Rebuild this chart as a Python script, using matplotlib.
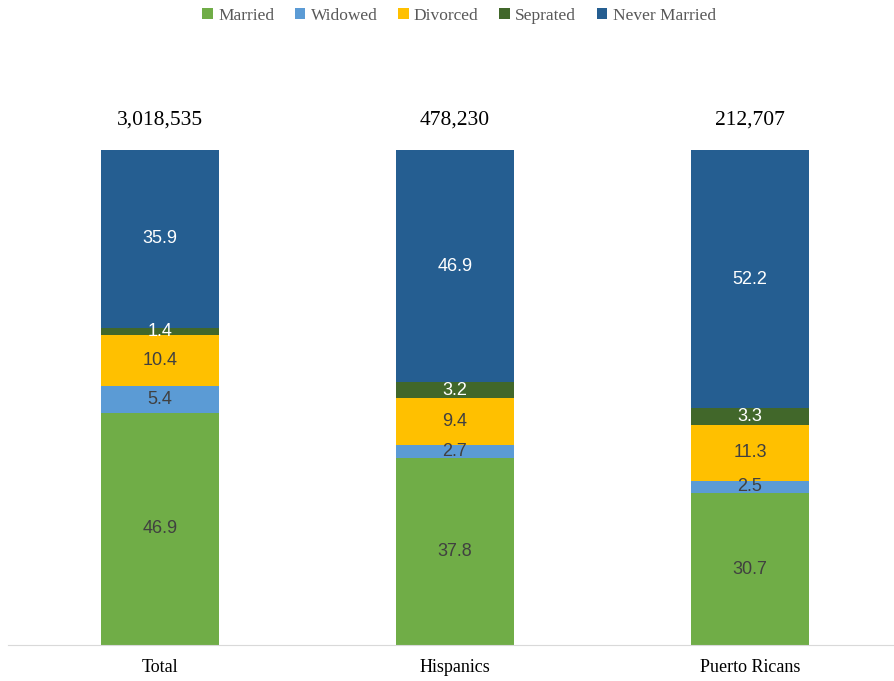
import numpy as np
import matplotlib.pyplot as plt

groups = ["Total", "Hispanics", "Puerto Ricans"]
totals = ["3,018,535", "478,230", "212,707"]

married = [46.9, 37.8, 30.7]
widowed = [5.4, 2.7, 2.5]
divorced = [10.4, 9.4, 11.3]
seprated = [1.4, 3.2, 3.3]
never_married = [35.9, 46.9, 52.2]

series = [
    ("Married", married, "#70AD47", "#404040"),
    ("Widowed", widowed, "#5B9BD5", "#404040"),
    ("Divorced", divorced, "#FFC000", "#404040"),
    ("Seprated", seprated, "#41672A", "white"),
    ("Never Married", never_married, "#255E91", "white"),
]

fig = plt.figure(figsize=(8.95, 6.81), dpi=100)
ax = fig.add_axes([8 / 895, 36 / 681, 885 / 895, 495 / 681])

x = np.arange(len(groups))
bottom = np.zeros(len(groups))
for name, vals, col, tcol in series:
    vals = np.array(vals)
    ax.bar(x, vals, 0.4, bottom=bottom, color=col, label=name)
    for xi, b, v in zip(x, bottom, vals):
        ax.text(xi, b + v / 2, f"{v:.1f}", ha="center", va="center",
                color=tcol, fontsize=13, family="Liberation Sans")
    bottom += vals

# group sizes above the bars
for xi, t in zip(x, totals):
    ax.text(xi, 106, t, ha="center", va="center", fontsize=15.5,
            family="Liberation Serif", clip_on=False)

ax.set_xlim(-0.515, 2.485)
ax.set_ylim(0, 100)
ax.set_yticks([])
ax.set_xticks(x)
ax.set_xticklabels(groups, family="Liberation Serif", fontsize=13)
ax.tick_params(axis="x", length=0, pad=10)
for s in ["top", "right", "left"]:
    ax.spines[s].set_visible(False)
ax.spines["bottom"].set_color("#D9D9D9")

fig.legend(loc="center", bbox_to_anchor=(459 / 895, 1 - 16 / 681), ncol=5,
           frameon=False, handlelength=0.6, handleheight=0.6,
           handletextpad=0.3, columnspacing=1.2,
           prop={"family": "Liberation Serif", "size": 12.5},
           labelcolor="#595959")

fig.savefig("out.png", dpi=100)
